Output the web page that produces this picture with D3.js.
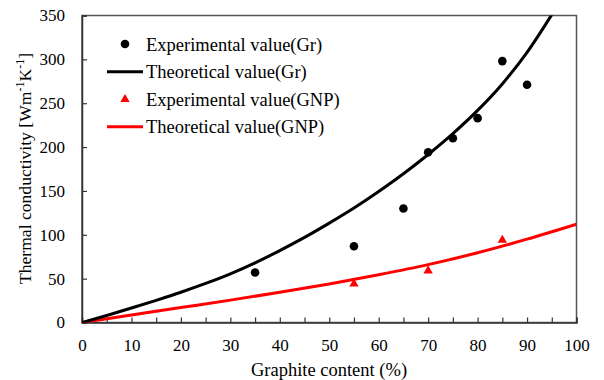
<!DOCTYPE html>
<html><head><meta charset="utf-8">
<script src="https://cdn.jsdelivr.net/npm/d3@7"></script>
<style>body{margin:0;background:#fff}svg{display:block}text{font-family:"Liberation Serif","Times New Roman",serif;fill:#000}</style>
</head><body><svg id="c" width="604" height="380"></svg>
<script>
// Data
const expGrX = [35, 55, 65, 70, 75, 80, 85, 90];
const expGrY = [57, 87, 130, 194, 210, 233, 298, 271];
const expGnpX = [55, 70, 85];
const expGnpY = [44, 59, 94];
const theoGrX = [0, 5, 10, 15, 20, 25, 30, 35, 40, 45, 50, 55, 60, 65, 70, 75, 80, 85, 90, 95, 100];
const theoGrY = [0, 8, 16.5, 25.3, 34.5, 44.5, 55.5, 68, 82, 97, 113.3, 130.5, 149.3, 169.5, 191.5, 215.3, 241.8, 272, 308, 351, 398];
const theoGnpX = [0, 10, 20, 30, 40, 50, 60, 70, 80, 90, 100];
const theoGnpY = [0, 8.5, 17, 25.5, 34.5, 44, 54.5, 66, 79.5, 95, 112];
const xTicks = [0, 10, 20, 30, 40, 50, 60, 70, 80, 90, 100];
const xMinorTicks = [5, 15, 25, 35, 45, 55, 65, 75, 85, 95];
const yTicks = [0, 50, 100, 150, 200, 250, 300, 350];
const legendLabels = ["Experimental value(Gr)", "Theoretical value(Gr)", "Experimental value(GNP)", "Theoretical value(GNP)"];

const svg = d3.select("#c");
const L = 82, R = 576.5, T = 15.5, B = 322.5;
const x = d3.scaleLinear().domain([0, 100]).range([L, R]);
const y = d3.scaleLinear().domain([0, 350]).range([B, T]);

svg.append("defs").append("clipPath").attr("id", "clip")
  .append("rect").attr("x", L).attr("y", T).attr("width", R - L).attr("height", B - T);

// frame
svg.append("rect").attr("x", L).attr("y", T).attr("width", R - L).attr("height", B - T)
  .attr("fill", "none").attr("stroke", "#555").attr("stroke-width", 1.5);

// x axis
const xAxis = d3.axisBottom(x).tickValues(xTicks).tickSize(-5).tickPadding(16).tickFormat(d3.format("d"));
const gx = svg.append("g").attr("transform", `translate(0,${B})`).call(xAxis);
gx.select(".domain").attr("stroke", "#333").attr("stroke-width", 1.5);
gx.selectAll(".tick line").attr("stroke", "#333").attr("stroke-width", 1.2);
gx.selectAll(".tick text").attr("font-size", 17).attr("font-family", "Liberation Serif").attr("fill", "#000");
const gxm = svg.append("g").attr("transform", `translate(0,${B})`)
  .call(d3.axisBottom(x).tickValues(xMinorTicks).tickSize(-5).tickFormat(""));
gxm.select(".domain").remove();
gxm.selectAll(".tick line").attr("stroke", "#333").attr("stroke-width", 1.2);

// y axis
const yAxis = d3.axisLeft(y).tickValues(yTicks).tickSize(-5).tickPadding(17).tickFormat(d3.format("d"));
const gy = svg.append("g").attr("transform", `translate(${L},0)`).call(yAxis);
gy.select(".domain").attr("stroke", "#333").attr("stroke-width", 1.5);
gy.selectAll(".tick line").attr("stroke", "#333").attr("stroke-width", 1.2);
gy.selectAll(".tick text").attr("font-size", 17).attr("font-family", "Liberation Serif").attr("fill", "#000");

// curves
const lineGen = d3.line().x(d => x(d[0])).y(d => y(d[1])).curve(d3.curveMonotoneX);
const plot = svg.append("g").attr("clip-path", "url(#clip)");
plot.append("path").datum(theoGnpX.map((v, i) => [v, theoGnpY[i]]))
  .attr("d", lineGen).attr("fill", "none").attr("stroke", "#ff0000").attr("stroke-width", 3);
plot.append("path").datum(theoGrX.map((v, i) => [v, theoGrY[i]]))
  .attr("d", lineGen).attr("fill", "none").attr("stroke", "#000").attr("stroke-width", 3);

// markers
svg.append("g").selectAll("circle").data(expGrX.map((v, i) => [v, expGrY[i]])).join("circle")
  .attr("cx", d => x(d[0])).attr("cy", d => y(d[1])).attr("r", 4.3).attr("fill", "#000");
const tri = d3.symbol().type(d3.symbolTriangle).size(38);
svg.append("g").selectAll("path").data(expGnpX.map((v, i) => [v, expGnpY[i]])).join("path")
  .attr("transform", d => `translate(${x(d[0])},${y(d[1])})`).attr("d", tri).attr("fill", "#ff0000");

// legend
const lg = svg.append("g");
const rows = [44, 71.7, 99.3, 126.7];
lg.append("circle").attr("cx", 125).attr("cy", rows[0]).attr("r", 4.3).attr("fill", "#000");
lg.append("line").attr("x1", 107).attr("x2", 143).attr("y1", rows[1]).attr("y2", rows[1]).attr("stroke", "#000").attr("stroke-width", 3);
lg.append("path").attr("transform", `translate(125,${rows[2]})`).attr("d", tri).attr("fill", "#ff0000");
lg.append("line").attr("x1", 107).attr("x2", 143).attr("y1", rows[3]).attr("y2", rows[3]).attr("stroke", "#ff0000").attr("stroke-width", 3);
legendLabels.forEach((t, i) => {
  lg.append("text").attr("x", 146).attr("y", rows[i] + 6.5).attr("font-size", 18.5).text(t);
});

// axis titles
svg.append("text").attr("x", 329).attr("y", 375.5).attr("text-anchor", "middle").attr("font-size", 18.5).text("Graphite content (%)");
const yt = svg.append("text").attr("transform", "translate(31,168.5) rotate(-90)").attr("text-anchor", "middle").attr("font-size", 17.6);
yt.append("tspan").text("Thermal conductivity [Wm");
yt.append("tspan").attr("dy", -7).attr("font-size", 12).text("-1");
yt.append("tspan").attr("dy", 7).text("K");
yt.append("tspan").attr("dy", -7).attr("font-size", 12).text("-1");
yt.append("tspan").attr("dy", 7).text("]");
</script></body></html>
